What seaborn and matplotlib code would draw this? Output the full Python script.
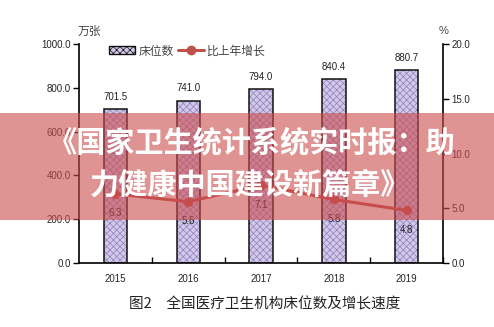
import matplotlib
matplotlib.use("Agg")
import matplotlib.pyplot as plt
import matplotlib.ticker as mticker
from matplotlib.patches import Rectangle
from matplotlib.lines import Line2D
import numpy as np
import pandas as pd
import seaborn as sns

years = ["2015", "2016", "2017", "2018", "2019"]
beds = [701.5, 741.0, 794.0, 840.4, 880.7]      # 万张
growth = [6.3, 5.6, 7.1, 5.8, 4.8]               # %
left_ticks = [0, 200, 400, 600, 800, 1000]
right_ticks = [0, 5, 10, 15, 20]

sns.set_theme(style="white")
plt.rcParams["font.family"] = ["Liberation Sans", "Noto Sans CJK SC", "DejaVu Sans"]
plt.rcParams["hatch.linewidth"] = 0.5

cjk = ["Noto Sans CJK SC", "DejaVu Sans"]
bar_fill = "#d2c9ea"
hatch_col = "#8f80bc"
line_col = "#c0504d"

df = pd.DataFrame({"year": years, "beds": beds, "growth": growth})

fig = plt.figure(figsize=(4.94, 3.27), dpi=100)
ax = fig.add_axes([0.160, 0.196, 0.737, 0.669])

# hatched bar bodies
sns.barplot(data=df, x="year", y="beds", ax=ax, color=bar_fill, width=0.32,
            edgecolor=hatch_col, linewidth=0, saturation=1, zorder=2)
for p in ax.patches:
    p.set_hatch("xxxxx")
    p.set_edgecolor(hatch_col)
# black outlines
sns.barplot(data=df, x="year", y="beds", ax=ax, fill=False, width=0.32,
            edgecolor="#111111", linewidth=1.1, zorder=3)

ax.set_ylim(0, 1000)
ax.set_xlim(-0.5, len(years) - 0.5)
ax.set_yticks(left_ticks)
ax.yaxis.set_major_formatter(mticker.FormatStrFormatter("%.1f"))
ax.set_xlabel("")
ax.set_ylabel("")
ax.tick_params(axis="y", direction="out", length=4, width=1, color="black",
               labelsize=7, pad=2, left=True)
ax.tick_params(axis="x", which="major", length=0, labelsize=7, pad=8)
ax.set_xticks(np.arange(len(years)) + 0.5, minor=True)
ax.tick_params(axis="x", which="minor", direction="in", length=4, width=1,
               color="black", bottom=True)
for s in ["left", "bottom"]:
    ax.spines[s].set_color("black")
    ax.spines[s].set_linewidth(1.2)
ax.spines["top"].set_visible(False)
ax.spines["right"].set_visible(False)

for i, v in enumerate(beds):
    ax.annotate(f"{v:.1f}", (i, v), xytext=(0, 9), textcoords="offset points",
                ha="center", va="center", fontsize=7, color="#222222")

# growth line on the secondary axis
ax2 = ax.twinx()
xpos = np.arange(len(years))
sns.lineplot(x=xpos, y=growth, ax=ax2, color=line_col, linewidth=2.2,
             marker="o", markersize=6, markeredgecolor=line_col, zorder=4)
ax2.set_ylim(0, 20)
ax2.set_yticks(right_ticks)
ax2.yaxis.set_major_formatter(mticker.FormatStrFormatter("%.1f"))
ax2.tick_params(axis="y", direction="out", length=4, width=1, color="black",
                labelsize=7, pad=2, right=True)
ax2.set_ylabel("")
for s in ["top", "left", "bottom"]:
    ax2.spines[s].set_visible(False)
ax2.spines["right"].set_color("black")
ax2.spines["right"].set_linewidth(1.2)

for i, v in enumerate(growth):
    ax2.annotate(f"{v:.1f}", (i, v), xytext=(0, -14), textcoords="offset points",
                 ha="center", va="center", fontsize=7, color="#222222")

# legend
handles = [
    Rectangle((0, 0), 1, 1, facecolor=bar_fill, edgecolor="#111111",
              hatch="xxxxx", linewidth=1.0),
    Line2D([0], [0], color=line_col, linewidth=2.2, marker="o", markersize=6),
]
leg = ax2.legend(handles, ["床位数", "比上年增长"], loc="upper left",
                 bbox_to_anchor=(0.07, 1.02), ncol=2, frameon=False,
                 prop={"family": cjk, "size": 8.5}, handlelength=2.2,
                 handletextpad=0.3, columnspacing=0.3, borderaxespad=0)
for t in leg.get_texts():
    t.set_color("#444444")

# axis units and caption
fig.text(0.158, 0.905, "万张", family=cjk, fontsize=8.5, color="#444444",
         ha="left", va="center")
fig.text(0.888, 0.905, "%", fontsize=8, color="#444444", ha="left", va="center")
fig.text(0.535, 0.068, "图2　全国医疗卫生机构床位数及增长速度", family=cjk,
         fontsize=10.5, color="#222222", ha="center", va="center")

# headline banner across the chart
fig.patches.append(Rectangle((0, 0.327), 1, 0.327, transform=fig.transFigure,
                             facecolor="#cc4c4c", alpha=0.6, edgecolor="none",
                             zorder=10))
fig.text(0.51, 0.565, "《国家卫生统计系统实时报：助", family=cjk, fontsize=21,
         fontweight="bold", color="white", ha="center", va="center", zorder=11)
fig.text(0.505, 0.436, "力健康中国建设新篇章》", family=cjk, fontsize=21,
         fontweight="bold", color="white", ha="center", va="center", zorder=11)

fig.savefig("out.png", dpi=100)
